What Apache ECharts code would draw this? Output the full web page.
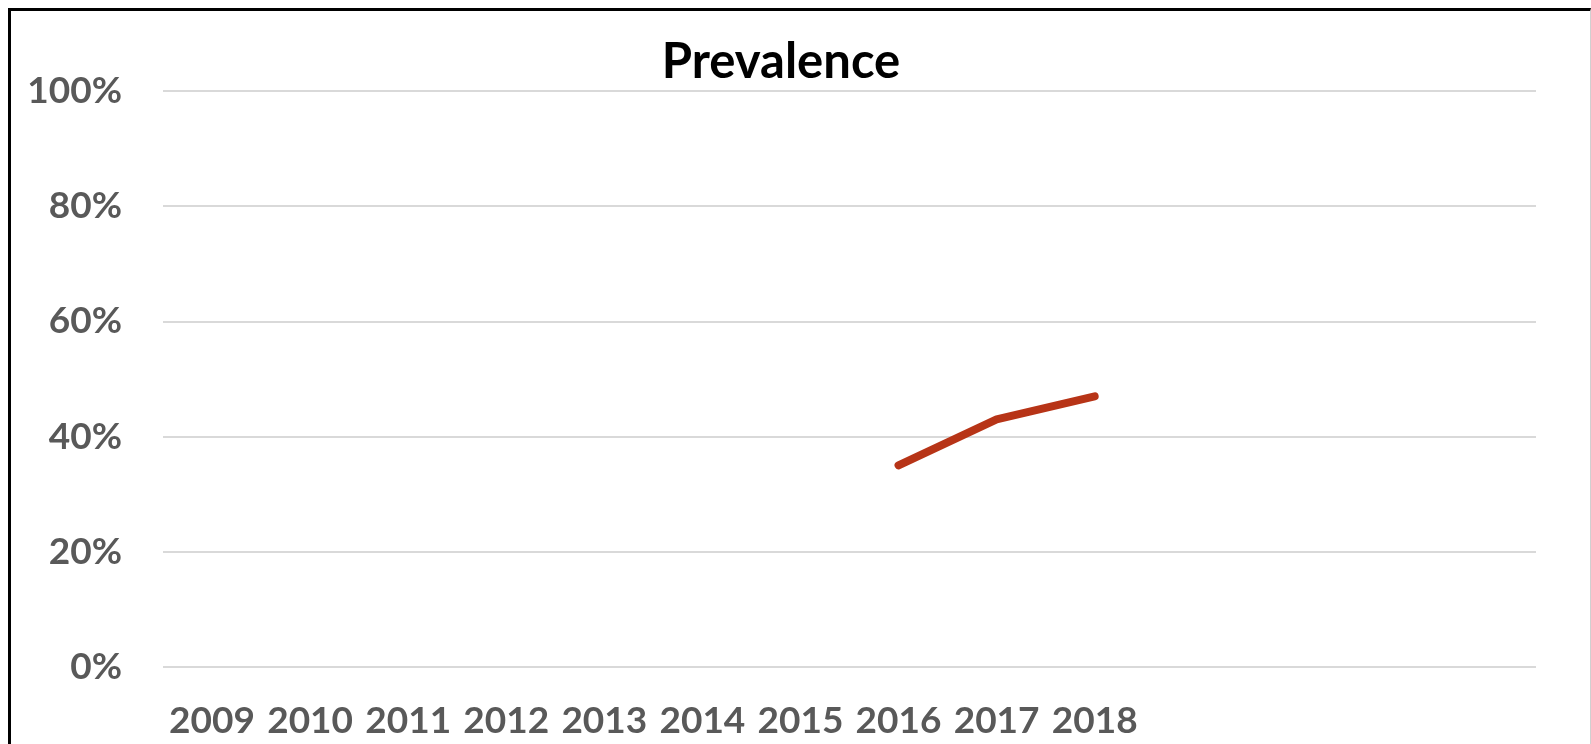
<!DOCTYPE html>
<html>
<head>
<meta charset="utf-8">
<script src="https://cdn.jsdelivr.net/npm/echarts@6/dist/echarts.min.js"></script>
<style>
  html, body { margin: 0; padding: 0; background: #fff; overflow: hidden; }
  #frame { position: absolute; left: 8px; top: 8px; width: 1579px; height: 760px;
           border-left: 3px solid #000; border-top: 3px solid #000; border-right: 1px solid #d0d0d0; }
  #chart { position: absolute; left: 0; top: 0; width: 1591px; height: 744px; }
</style>
</head>
<body>
<div id="frame"></div>
<div id="chart"></div>
<script>
const titleText = 'Prevalence';
const categories = ['2009','2010','2011','2012','2013','2014','2015','2016','2017','2018','','','',''];
const prevalence = [null,null,null,null,null,null,null,0.35,0.43,0.47,null,null,null,null];
const yTicks = [0, 0.2, 0.4, 0.6, 0.8, 1.0];

const chart = echarts.init(document.getElementById('chart'), null, { renderer: 'canvas' });
chart.setOption({
  backgroundColor: 'transparent',
  animation: false,
  title: {
    text: titleText, left: 776, top: 33, textAlign: 'center',
    textStyle: { fontFamily: 'Lato', fontWeight: 'bold', fontSize: 49, color: '#000' }
  },
  grid: { left: 163, right: 55, top: 91, bottom: 77, containLabel: false },
  xAxis: {
    type: 'category', data: categories, boundaryGap: true,
    axisLine: { show: false }, axisTick: { show: false },
    axisLabel: { interval: 0, margin: 36, fontFamily: 'Lato', fontWeight: 'bold', fontSize: 37, color: '#595959' }
  },
  yAxis: {
    type: 'value', min: yTicks[0], max: yTicks[yTicks.length - 1], interval: 0.2,
    axisLine: { show: false }, axisTick: { show: false },
    splitLine: { lineStyle: { color: '#d9d9d9', width: 2 } },
    axisLabel: { margin: 41, fontFamily: 'Lato', fontWeight: 'bold', fontSize: 37, color: '#595959',
      formatter: v => Math.round(v * 100) + '%' }
  },
  series: [{
    type: 'line', data: prevalence, connectNulls: false,
    symbol: 'none',
    lineStyle: { color: '#B73417', width: 8, cap: 'round', join: 'round' }
  }]
});
</script>
</body>
</html>
